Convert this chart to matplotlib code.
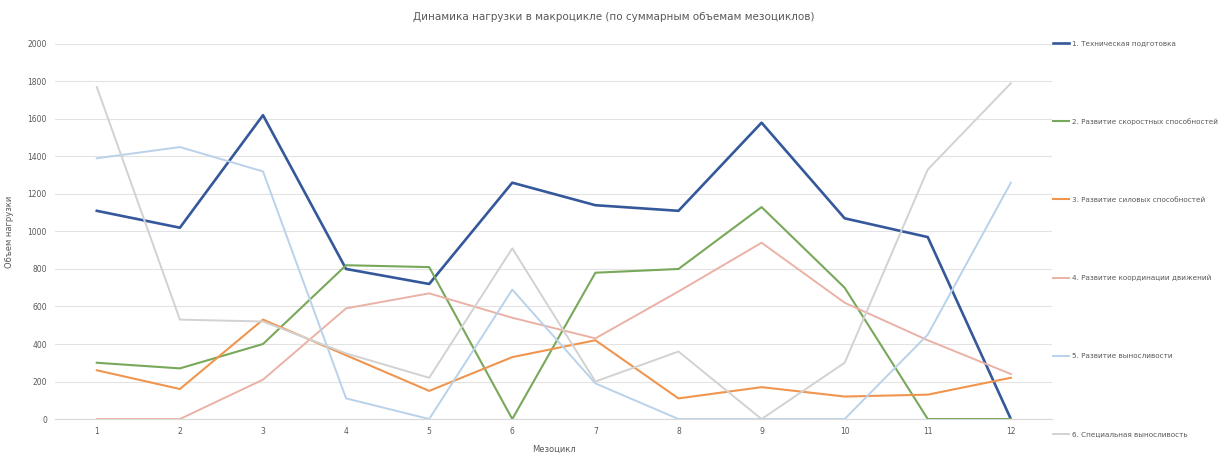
import matplotlib.pyplot as plt

mesocycles = list(range(1, 13))

tech = [1110, 1020, 1620, 800, 720, 1260, 1140, 1110, 1580, 1070, 970, 0]
speed = [300, 270, 400, 820, 810, 0, 780, 800, 1130, 700, 0, 0]
strength = [260, 160, 530, 340, 150, 330, 420, 110, 170, 120, 130, 220]
coord = [0, 0, 210, 590, 670, 540, 430, 680, 940, 620, 420, 240]
endurance = [1390, 1450, 1320, 110, 0, 690, 190, 0, 0, 0, 450, 1260]
special_end = [1770, 530, 520, 350, 220, 910, 200, 360, 0, 300, 1330, 1790]

labels = [
    "1. Техническая подготовка",
    "2. Развитие скоростных способностей",
    "3. Развитие силовых способностей",
    "4. Развитие координации движений",
    "5. Развитие выносливости",
    "6. Специальная выносливость",
]
series = [tech, speed, strength, coord, endurance, special_end]
colors = ["#34589a", "#78a85a", "#f0954f", "#eab2a6", "#b9d2ea", "#d2d2d2"]
widths = [1.9, 1.5, 1.5, 1.4, 1.4, 1.4]

text_color = "#595959"

fig = plt.figure(figsize=(12.28, 4.62), dpi=100)
ax = fig.add_axes([0.045, 0.093, 0.812, 0.812])

for values, label, color, lw in zip(series, labels, colors, widths):
    ax.plot(mesocycles, values, color=color, linewidth=lw, label=label)

ax.set_xlim(0.5, 12.5)
ax.set_ylim(0, 2000)
ax.set_xticks(mesocycles)
ax.set_yticks(range(0, 2001, 200))
ax.grid(axis="y", color="#e3e3e3", linewidth=0.8)
ax.set_axisbelow(True)
for side in ["top", "right", "left"]:
    ax.spines[side].set_visible(False)
ax.spines["bottom"].set_color("#d9d9d9")
ax.tick_params(axis="both", length=0, labelsize=5.5, colors=text_color, pad=6)

ax.set_xlabel("Мезоцикл", fontsize=6, color=text_color, labelpad=6)
ax.set_ylabel("Объем нагрузки", fontsize=6, color=text_color, labelpad=10)
fig.suptitle("Динамика нагрузки в макроцикле (по суммарным объемам мезоциклов)",
             fontsize=7.5, color=text_color, y=0.975)

fig.legend(loc="upper left", bbox_to_anchor=(0.852, 0.927), frameon=False,
           fontsize=5.2, labelspacing=9.95, handlelength=2.2, handletextpad=0.4,
           labelcolor=text_color)

fig.savefig("out.png", dpi=100)
plt.close(fig)
